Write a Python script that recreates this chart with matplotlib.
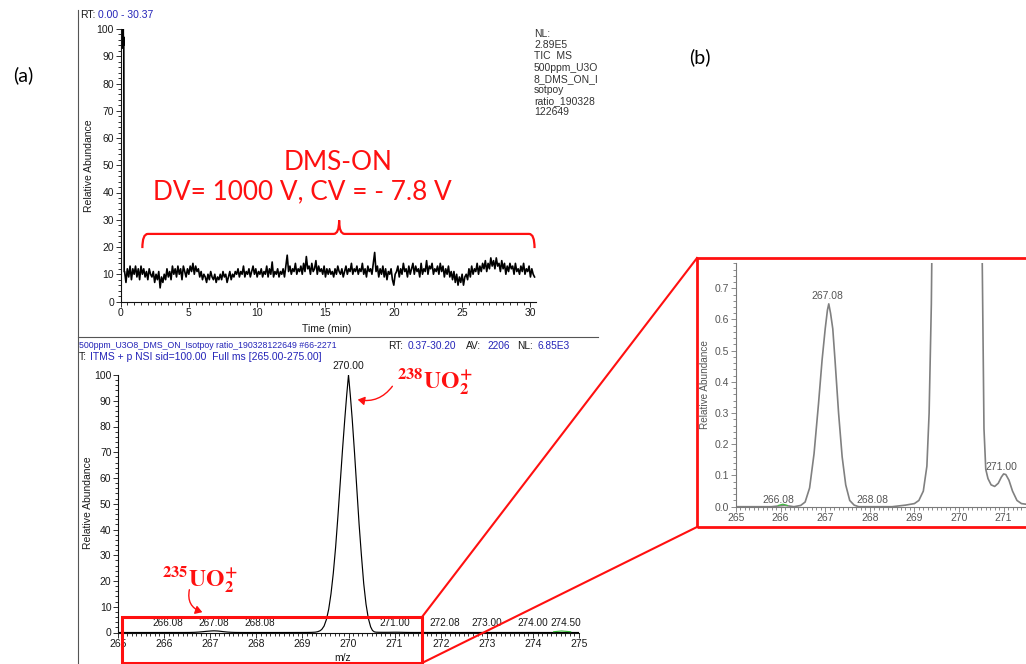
import numpy as np
import matplotlib
matplotlib.use("Agg")
import matplotlib.pyplot as plt
from matplotlib.patches import Rectangle, PathPatch, FancyArrowPatch
from matplotlib.path import Path
from matplotlib.lines import Line2D
from matplotlib.ticker import MultipleLocator, FormatStrFormatter

# ---------------- data ----------------
# TIC chromatogram: injection spike, then the DMS-ON baseline (0.1 min scans from 0.3 min)
spike_time = [0.08, 0.10, 0.12, 0.14, 0.16, 0.18, 0.20, 0.22, 0.24, 0.27]
spike_abund = [99, 94, 100, 93, 98, 95, 100, 94, 97, 11]
tic_abund = [
    11, 7, 12, 9, 13, 8, 12, 10, 13, 9,
    12, 8, 13, 10, 12, 9, 11, 8, 12, 10,
    9, 11, 7, 10, 8, 11, 5, 9, 7, 10,
    8, 12, 9, 11, 8, 13, 10, 12, 9, 13,
    10, 12, 8, 13, 11, 9, 12, 10, 13, 11,
    14, 10, 13, 11, 12, 9, 11, 8, 10, 9,
    7, 10, 8, 11, 9, 8, 10, 7, 9, 8,
    10, 8, 11, 9, 10, 7, 9, 11, 8, 10,
    9, 11, 10, 12, 9, 11, 10, 13, 9, 11,
    10, 12, 9, 11, 13, 10, 12, 9, 11, 10,
    12, 9, 11, 10, 13, 9, 12, 10, 14.5, 9,
    11, 10, 12, 9, 11, 10, 12, 9, 13, 17,
    11, 13, 10, 12, 11, 14, 10, 12, 11, 13,
    10, 14, 11, 16.5, 12, 13, 10, 14, 11, 12,
    15, 10, 13, 11, 12, 10, 13, 9, 12, 10,
    12, 10, 11, 9, 12, 10, 13, 11, 10, 12,
    9, 11, 13, 10, 12, 11, 14, 10, 12, 11,
    13, 10, 12, 11, 14, 10, 12, 9, 13, 11,
    12, 10, 14, 18, 11, 13, 9, 12, 10, 13,
    9, 12, 8, 11, 10, 12, 8, 6, 10, 11,
    13, 9, 12, 10, 14, 11, 12, 9, 13, 10,
    12, 14, 10, 13, 11, 12, 9, 14, 10, 12,
    11, 15, 10, 13, 12, 14, 10, 12, 11, 13,
    10, 14, 11, 13, 9, 12, 10, 13, 9, 11,
    8, 11, 7, 10, 6, 9, 7, 10, 6, 9,
    10, 8, 12, 9, 13, 10, 12, 11, 14, 10,
    13, 11, 14, 12, 15, 11, 14, 12, 16, 13,
    15, 12, 16, 13, 14, 11, 15, 12, 14, 10,
    13, 11, 14, 12, 13, 10, 14, 11, 12, 10,
    13, 11, 14, 10, 12, 11, 13, 9, 12, 10,
    9,
]
tic_start, tic_step = 0.3, 0.1

# Averaged full-scan mass spectrum (profile), m/z vs relative abundance
spec_mz = [265.00, 265.80, 266.00, 266.10, 266.30, 266.45, 266.55, 266.65, 266.75, 266.85,
           266.93, 267.00, 267.05, 267.08, 267.12, 267.17, 267.22, 267.30, 267.38, 267.46,
           267.55, 267.65, 267.75, 268.50, 268.80, 269.00, 269.10, 269.20, 269.28, 269.33,
           269.38, 269.42, 269.47, 269.52, 269.57, 269.62, 269.67, 269.72, 269.77, 269.82,
           269.87, 269.92, 269.96, 270.00, 270.04, 270.08, 270.13, 270.18, 270.23, 270.28,
           270.33, 270.38, 270.43, 270.48, 270.52, 270.56, 270.60, 270.65, 270.72, 270.80,
           270.88, 270.95, 271.00, 271.05, 271.12, 271.20, 271.30, 271.40, 271.50, 271.60,
           271.70, 271.85, 272.00, 272.08, 272.20, 272.35, 273.00, 273.10, 274.00, 274.10,
           275.00]
spec_abund = [0, 0, 0.003, 0.004, 0, 0.004, 0.015, 0.06, 0.17, 0.33,
              0.47, 0.57, 0.63, 0.65, 0.62, 0.57, 0.47, 0.30, 0.16, 0.07,
              0.02, 0.005, 0, 0, 0.005, 0.01, 0.02, 0.05, 0.13, 0.30,
              0.65, 1.2, 2.5, 5.0, 9.0, 15.0, 23.0, 33.0, 45.0, 58.0,
              71.0, 83.0, 92.0, 100.0, 92.0, 83.0, 70.0, 56.0, 42.0, 30.0,
              19.0, 11.0, 5.5, 2.2, 0.8, 0.25, 0.12, 0.09, 0.07, 0.065,
              0.075, 0.095, 0.105, 0.103, 0.085, 0.05, 0.02, 0.01, 0.008, 0.015,
              0.008, 0.003, 0.02, 0.03, 0.02, 0, 0.01, 0, 0.01, 0,
              0]
green_mz_hi = [274.45, 274.62, 274.82]
green_ab_hi = [0.3, 0.6, 0.3]
green_mz_lo = [265.95, 266.05, 266.15]
green_ab_lo = [0.004, 0.008, 0.004]

main_labels = ["266.08", "267.08", "268.08", "271.00", "272.08", "273.00", "274.00", "274.50"]
main_label_pos = [266.08, 267.08, 268.08, 271.00, 272.08, 273.00, 274.00, 274.72]
inset_labels = ["266.08", "267.08", "268.08", "271.00"]
inset_label_pos = [265.95, 267.05, 268.05, 270.95]
inset_label_y = [0.004, 0.66, 0.004, 0.11]

nl_lines = ["NL:", "2.89E5", "TIC  MS", "500ppm_U3O", "8_DMS_ON_I", "sotpoy",
            "ratio_190328", "122649"]

# ---------------- figure ----------------
W, H = 1026, 664
plt.rcParams["font.family"] = ["Liberation Sans", "DejaVu Sans"]
plt.rcParams["mathtext.fontset"] = "stix"
fig = plt.figure(figsize=(W / 100, H / 100), dpi=100)
fig.patch.set_facecolor("white")

RED = "#ff1010"
BLUE = "#2424b8"
INK = "#1a1a1a"
HUMAN = ["Lato", "DejaVu Sans"]


def fx(x):
    return x / W


def fy(y):
    return 1 - y / H


def axes_px(x0, x1, ytop, ybot):
    return fig.add_axes([fx(x0), fy(ybot), (x1 - x0) / W, (ybot - ytop) / H])


def style(ax, color="#111111", tcolor=INK, size=7.5):
    for s in ["top", "right"]:
        ax.spines[s].set_visible(False)
    for s in ["left", "bottom"]:
        ax.spines[s].set_color(color)
        ax.spines[s].set_linewidth(0.8)
    ax.tick_params(which="both", direction="out", colors=color, labelcolor=tcolor,
                   labelsize=size, width=0.6, pad=1.2)
    ax.tick_params(which="major", length=3.5)
    ax.tick_params(which="minor", length=2.0)
    ax.patch.set_alpha(0)


def ftext(x, y, s, **kw):
    kw.setdefault("va", "center")
    kw.setdefault("ha", "left")
    return fig.text(fx(x), fy(y), s, **kw)


# ---- (a) top: TIC chromatogram ----
ax1 = axes_px(120.5, 535.5, 29, 301.5)
style(ax1)
tic_time = tic_start + tic_step * np.arange(len(tic_abund))
ax1.plot(np.concatenate([spike_time, tic_time]), np.concatenate([spike_abund, tic_abund]),
         color="black", lw=1.2)
ax1.set_xlim(0, 30.37)
ax1.set_ylim(0, 100)
ax1.xaxis.set_major_locator(MultipleLocator(5))
ax1.xaxis.set_minor_locator(MultipleLocator(0.5))
ax1.yaxis.set_major_locator(MultipleLocator(10))
ax1.yaxis.set_minor_locator(MultipleLocator(2))

# bracket over the DMS-ON region
M, C3, L = Path.MOVETO, Path.CURVE3, Path.LINETO
bverts = [(1.6, 19.6), (1.6, 24.8), (2.0, 24.8),
          (15.6, 24.8), (16.0, 24.8), (16.0, 29.8), (16.0, 24.8), (16.4, 24.8),
          (29.9, 24.8), (30.3, 24.8), (30.3, 19.6)]
bcodes = [M, C3, C3, L, C3, C3, C3, C3, L, C3, C3]
ax1.add_patch(PathPatch(Path(bverts, bcodes), fill=False, edgecolor=RED, lw=1.6))

ftext(338, 162, "DMS-ON", ha="center", color=RED, fontsize=18.8, family=HUMAN)
ftext(302, 192, "DV= 1000 V, CV = - 7.8 V", ha="center", color=RED, fontsize=18.8,
      family=HUMAN)

ftext(89, 166, "Relative Abundance", rotation=90, ha="center", fontsize=7.5, color=INK)
ftext(326.7, 329, "Time (min)", ha="center", fontsize=7.5, color=INK)
ftext(80, 15, "RT:", fontsize=7.5, color=INK)
ftext(98, 15, "0.00 - 30.37", fontsize=7.5, color=BLUE)
for i, s in enumerate(nl_lines):
    ftext(534, 34 + 11.2 * i, s, fontsize=7.5, color="#333333")

# ---- bottom: averaged mass spectrum ----
ax2 = axes_px(118, 579, 375, 632.5)
style(ax2)
ax2.plot(spec_mz, spec_abund, color="black", lw=0.85)
ax2.plot(green_mz_hi, green_ab_hi, color="#33bb33", lw=0.8)
ax2.set_xlim(265, 275)
ax2.set_ylim(0, 100)
ax2.xaxis.set_major_locator(MultipleLocator(1))
ax2.xaxis.set_minor_locator(MultipleLocator(0.1))
ax2.yaxis.set_major_locator(MultipleLocator(10))
ax2.yaxis.set_minor_locator(MultipleLocator(2))
ax2.text(270.0, 101.5, "270.00", ha="center", va="bottom", fontsize=7.5, color=INK, clip_on=False)
for s, p in zip(main_labels, main_label_pos):
    ax2.text(p, 1.6, s, ha="center", va="bottom", fontsize=7.2, color=INK)

ftext(88, 503, "Relative Abundance", rotation=90, ha="center", fontsize=7.5, color=INK)
ftext(343, 658, "m/z", ha="center", fontsize=7.5, color=INK)

ftext(79, 346, "500ppm_U3O8_DMS_ON_Isotpoy ratio_190328122649 #66-2271", fontsize=6.3,
      color=BLUE)
hdr1 = [(388, "RT:", INK), (408, "0.37-30.20", BLUE), (466, "AV:", INK),
        (487, "2206", BLUE), (517, "NL:", INK), (537, "6.85E3", BLUE)]
for x, s, c in hdr1:
    ftext(x, 346, s, fontsize=7.3, color=c)
ftext(79, 357.5, "T:", fontsize=7.5, color=INK)
ftext(90, 357.5, "ITMS + p NSI sid=100.00  Full ms [265.00-275.00]", fontsize=7.5, color=BLUE)

# ion annotations
ftext(397, 388, r"$\mathbf{^{238}UO_{2}^{+}}$", va="baseline", fontsize=17, color=RED)
ftext(162, 586, r"$\mathbf{^{235}UO_{2}^{+}}$", va="baseline", fontsize=17, color=RED)
fig.add_artist(FancyArrowPatch(
    (fx(394), fy(384)), (fx(355), fy(399)), transform=fig.transFigure,
    arrowstyle="-|>,head_length=4,head_width=2.5", color=RED, lw=1.0,
    connectionstyle="arc3,rad=-0.35"))
fig.add_artist(FancyArrowPatch(
    (fx(190), fy(587)), (fx(205), fy(613)), transform=fig.transFigure,
    arrowstyle="-|>,head_length=4,head_width=2.5", color=RED, lw=1.0,
    connectionstyle="arc3,rad=0.5"))

# ---- (b) inset: low-abundance zoom of the spectrum ----
ax3 = axes_px(736, 736 + 7 * 44.6, 263.3, 506.7)
style(ax3, color="#7a7a7a", tcolor="#555555", size=7.5)
ax3.plot(spec_mz, spec_abund, color="#808080", lw=1.2)
ax3.plot(green_mz_lo, green_ab_lo, color="#44bb44", lw=0.9)
ax3.set_xlim(265, 272)
ax3.set_ylim(0, 0.78)
ax3.set_xticks(np.arange(265, 272))
ax3.xaxis.set_minor_locator(MultipleLocator(0.1))
ax3.yaxis.set_major_locator(MultipleLocator(0.1))
ax3.yaxis.set_minor_locator(MultipleLocator(0.02))
ax3.yaxis.set_major_formatter(FormatStrFormatter("%.1f"))
for s, p, yv in zip(inset_labels, inset_label_pos, inset_label_y):
    ax3.text(p, yv, s, ha="center", va="bottom", fontsize=7.5, color="#555555")
ftext(705, 385, "Relative Abundance", rotation=90, ha="center", fontsize=7.2, color="#555555")

# ---- frames, zoom box and connectors ----
fig.add_artist(Line2D([fx(78), fx(78)], [fy(10), fy(664)], color="#555555", lw=0.8))
fig.add_artist(Line2D([fx(78), fx(598)], [fy(336.5), fy(336.5)], color="#555555", lw=0.8))
fig.add_artist(Rectangle((fx(122), fy(663)), (422 - 122) / W, (663 - 617) / H,
                         transform=fig.transFigure, fill=False, edgecolor=RED, lw=2.2))
fig.add_artist(Rectangle((fx(697), fy(527)), (1040 - 697) / W, (527 - 258) / H,
                         transform=fig.transFigure, fill=False, edgecolor=RED, lw=2.0))
fig.add_artist(Line2D([fx(422), fx(697)], [fy(617), fy(258)], color=RED, lw=1.5))
fig.add_artist(Line2D([fx(422), fx(697)], [fy(663), fy(527)], color=RED, lw=1.5))

ftext(23, 75, "(a)", ha="center", fontsize=14, color="black", family=HUMAN)
ftext(700, 57, "(b)", ha="center", fontsize=14, color="black", family=HUMAN)

fig.savefig("out.png", dpi=100, facecolor="white")
